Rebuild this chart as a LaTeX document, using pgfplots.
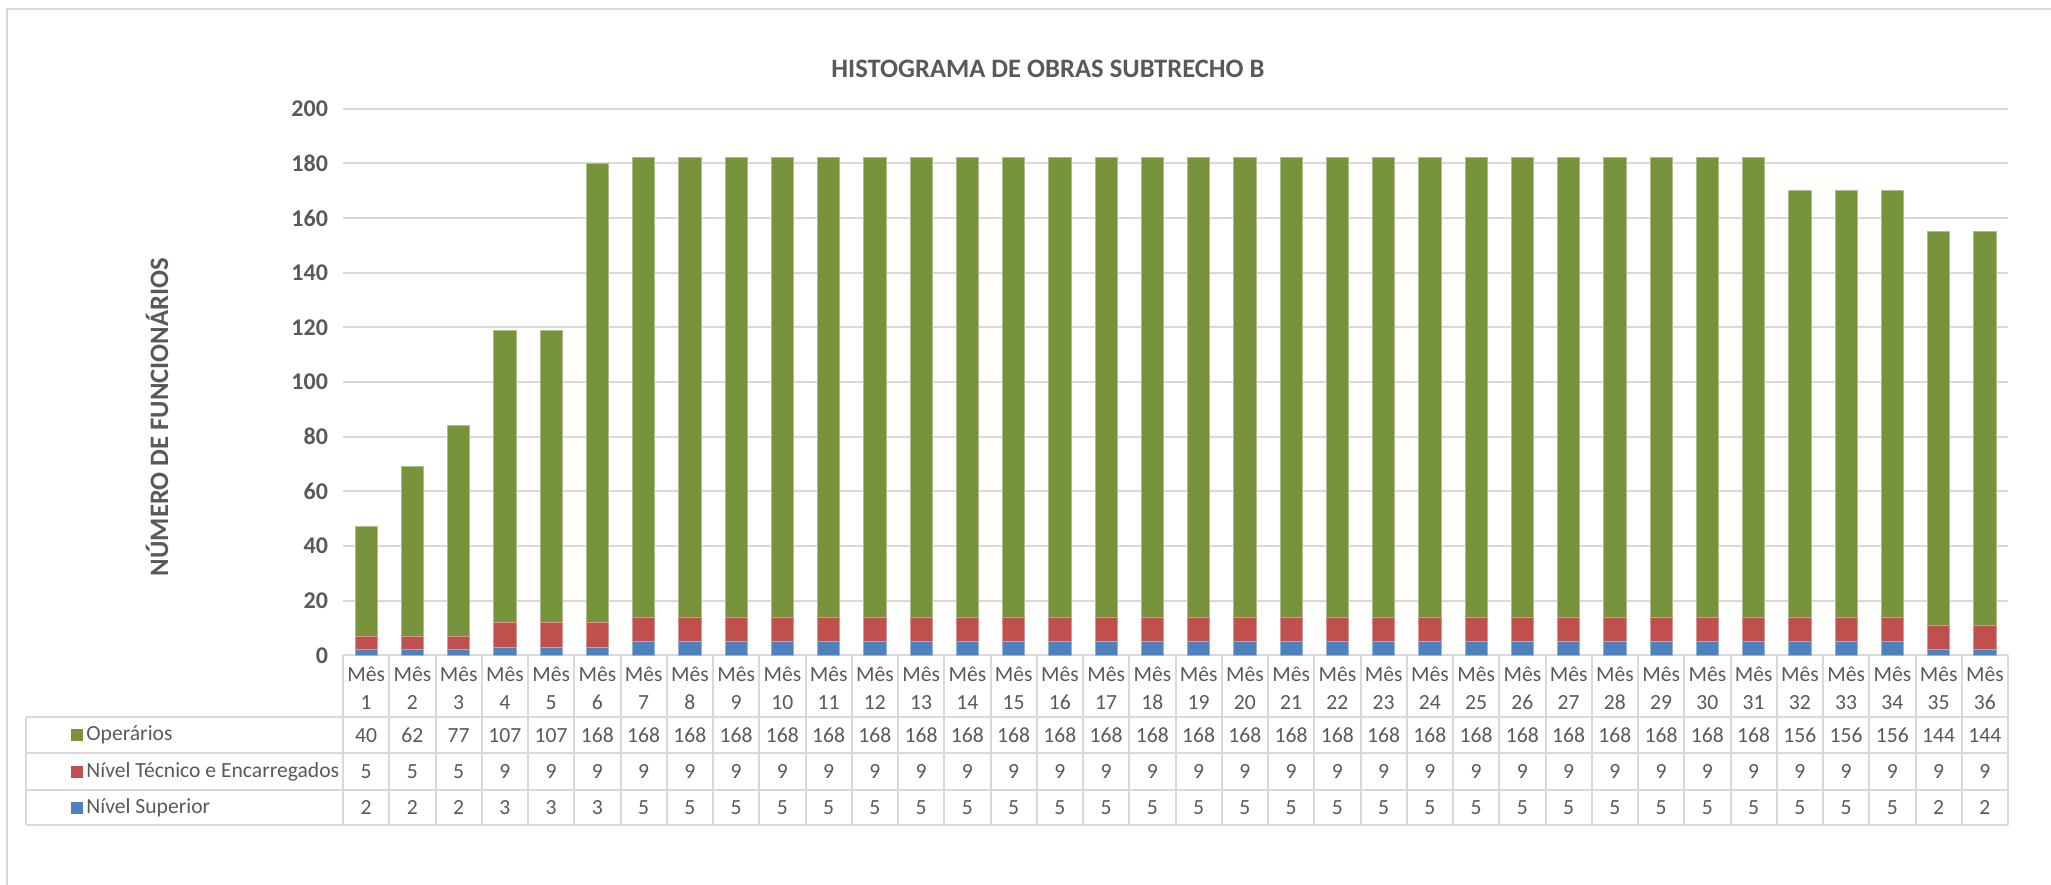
\documentclass[border=0pt]{standalone}
\usepackage{pgfplots}
\pgfplotsset{compat=1.18}
\usepackage{pgfplotstable}
\usepackage{fontspec}
\setmainfont{Carlito}
\definecolor{cgreen}{HTML}{77933C}
\definecolor{cred}{HTML}{C0504D}
\definecolor{cblue}{HTML}{4F81BD}
\definecolor{gridc}{HTML}{D9D9D9}
\definecolor{txt}{HTML}{595959}

\pgfplotstableread{
m op tec sup
1 40 5 2
2 62 5 2
3 77 5 2
4 107 9 3
5 107 9 3
6 168 9 3
7 168 9 5
8 168 9 5
9 168 9 5
10 168 9 5
11 168 9 5
12 168 9 5
13 168 9 5
14 168 9 5
15 168 9 5
16 168 9 5
17 168 9 5
18 168 9 5
19 168 9 5
20 168 9 5
21 168 9 5
22 168 9 5
23 168 9 5
24 168 9 5
25 168 9 5
26 168 9 5
27 168 9 5
28 168 9 5
29 168 9 5
30 168 9 5
31 168 9 5
32 156 9 5
33 156 9 5
34 156 9 5
35 144 9 2
36 144 9 2
}\data

\begin{document}
\begin{tikzpicture}[x=0.5pt,y=0.5pt]
\useasboundingbox (0,0) rectangle (2051,884);
\draw[gridc, line width=1pt] (7,-5) -- (7,875) -- (2060,875);

% table lines
\foreach \yy in {167,131,94,59} \draw[gridc, line width=1pt] (26,\yy) -- (2008,\yy);
\draw[gridc, line width=1pt] (26,167) -- (26,59);
\foreach \k in {0,...,36} \draw[gridc, line width=1pt] ({343+46.25*\k},228.7) -- ({343+46.25*\k},59);

% legend keys and labels
\fill[cgreen] (71,143) rectangle (83,155);
\fill[cred] (71,106.5) rectangle (83,118.5);
\fill[cblue] (71,70.5) rectangle (83,82.5);
\node[anchor=west, text=txt, font=\fontsize{10.8}{13}\selectfont, inner sep=0] at (86,149) {Operários};
\node[anchor=west, text=txt, font=\fontsize{10.8}{13}\selectfont, inner sep=0] at (86,112.5) {Nível Técnico e Encarregados};
\node[anchor=west, text=txt, font=\fontsize{10.8}{13}\selectfont, inner sep=0] at (86,76.5) {Nível Superior};

% title and y label
\node[text=txt, font=\fontsize{13.3}{16}\selectfont\bfseries] at (1048,815) {HISTOGRAMA DE OBRAS SUBTRECHO B};
\node[text=txt, font=\fontsize{13.3}{16}\selectfont\bfseries, rotate=90] at (157,467) {NÚMERO DE FUNCIONÁRIOS};

\begin{axis}[
  at={(171.5pt,114.35pt)}, anchor=south west,
  scale only axis, width=832.5pt, height=273.35pt,
  ybar stacked, bar width=0.48,
  xmin=0.5, xmax=36.5, ymin=0, ymax=200,
  ytick={0,20,...,200},
  xtick={1,...,36},
  /pgf/number format/assume math mode=true,
  xticklabel={Mês\\\pgfmathprintnumber{\tick}},
  xticklabel style={align=center, text=txt, font=\fontsize{10.8}{14}\selectfont, anchor=center, yshift=-16.3pt},
  yticklabel style={text=txt, font=\fontsize{12}{14}\selectfont\bfseries, xshift=-4pt},
  axis line style={draw=none},
  major tick length=0pt,
  ymajorgrids, grid style={gridc, line width=1pt},
]
\addplot[fill=cblue, draw=cblue!60!white, line width=0.4pt] table[x=m, y=sup] {\data};
\addplot[fill=cred, draw=cred!60!white, line width=0.4pt] table[x=m, y=tec] {\data};
\addplot[fill=cgreen, draw=cgreen!60!white, line width=0.4pt] table[x=m, y=op] {\data};
\end{axis}

\begin{axis}[
  at={(171.5pt,114.35pt)}, anchor=south west,
  scale only axis, width=832.5pt, height=273.35pt,
  xmin=0.5, xmax=36.5, ymin=0, ymax=200,
  hide axis, clip=false,
  /pgf/number format/assume math mode=true,
  nodes near coords,
  point meta=explicit,
  every node near coord/.append style={anchor=center, text=txt, font=\fontsize{10.8}{13}\selectfont, inner sep=0pt},
]
\addplot[draw=none, mark=none] table[x=m, y expr=-29.2, meta=op] {\data};
\addplot[draw=none, mark=none] table[x=m, y expr=-42.5, meta=tec] {\data};
\addplot[draw=none, mark=none] table[x=m, y expr=-55.7, meta=sup] {\data};
\end{axis}
\end{tikzpicture}
\end{document}
